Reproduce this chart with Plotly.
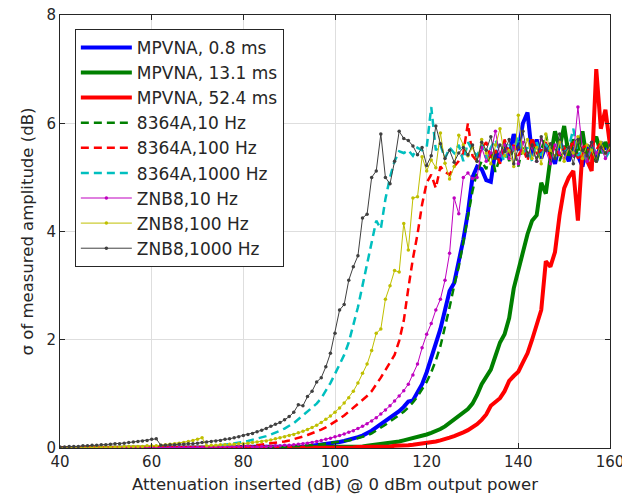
import plotly.graph_objects as go

# ---------------- data (sigma of measured amplitude, dB) ----------------
# attenuation grid is 1 dB per sample, each series starts at its own value
mp08_start = 40
mp08 = ([0.00]*17 + [0.01]*22 + [0.02]*10 + [0.03]*6 + [0.04] +
        [0.05, 0.06, 0.07, 0.08,
         0.10, 0.11, 0.13, 0.15, 0.17, 0.20, 0.23, 0.27, 0.32, 0.38,
         0.44, 0.50, 0.55, 0.60, 0.68, 0.76, 0.86, 0.88, 1.05, 1.18,
         1.40, 1.65, 1.90, 2.20, 2.55, 2.90, 3.05, 3.45, 3.85, 4.35,
         5.00, 5.20, 5.15, 4.95, 4.92, 5.50, 5.30, 5.60, 5.40, 5.80,
         5.50, 6.00, 6.20, 5.40, 5.70, 5.35, 5.60, 5.45, 5.25, 5.65,
         5.50, 5.30, 5.55, 5.40, 5.20, 5.60, 5.45, 5.30, 5.65, 5.50])

mp131_start = 40
mp131 = ([0.00]*30 + [0.01]*25 + [0.02]*9 + [0.02, 0.02] +
         [0.03, 0.04, 0.05, 0.06, 0.08,
          0.09, 0.10, 0.11, 0.12, 0.14, 0.16, 0.18, 0.20, 0.23, 0.25,
          0.28, 0.31, 0.35, 0.40, 0.46, 0.52, 0.58, 0.65, 0.72, 0.82,
          0.98, 1.18, 1.32, 1.45, 1.70, 1.95, 2.10, 2.40, 2.95, 3.30,
          3.62, 3.95, 4.20, 4.30, 4.90, 4.70, 5.35, 5.85, 5.55, 5.95,
          5.40, 5.70, 5.50, 5.85, 5.30, 5.60, 5.75, 5.45, 5.65, 5.50])

mp524_start = 40
mp524 = ([0.00]*40 + [0.01]*25 + [0.02]*6 +
         [0.03, 0.03, 0.04, 0.04, 0.05, 0.05, 0.06, 0.07, 0.08, 0.09,
          0.10, 0.12, 0.14, 0.16, 0.19, 0.22, 0.25, 0.29, 0.33, 0.38,
          0.44, 0.52, 0.62, 0.78, 0.86, 0.92, 1.05, 1.24, 1.33, 1.41,
          1.58, 1.75, 2.00, 2.30, 2.55, 3.45, 3.35, 3.62, 4.30, 4.80,
          5.00, 5.12, 4.20, 5.50, 5.30, 5.12, 7.00, 5.90, 6.25, 5.60])

a10_start = 85
a10 = [0.01, 0.01, 0.02, 0.02, 0.02, 0.03, 0.03, 0.04, 0.04, 0.05, 0.05, 0.06, 0.07, 0.08, 0.09, 0.10,
       0.11, 0.13, 0.14, 0.16, 0.18, 0.20, 0.23, 0.27, 0.32, 0.37,
       0.43, 0.49, 0.55, 0.60, 0.67, 0.75, 0.84, 0.95, 1.08, 1.22,
       1.40, 1.62, 1.88, 2.22, 2.60, 3.00, 3.35, 3.80, 4.25, 4.75,
       5.10, 5.30, 5.15, 5.50, 5.10, 5.40, 5.65, 5.30, 5.55, 5.20,
       5.60, 5.45, 5.70, 5.35, 5.50, 5.80, 5.40, 5.60, 5.30, 5.55,
       5.65, 5.35, 5.50, 5.70, 5.40, 5.55, 5.25, 5.60, 5.45, 5.50]

a100_start = 80
a100 = [0.02, 0.03, 0.04, 0.05, 0.06, 0.07, 0.08, 0.09, 0.10, 0.12, 0.14,
        0.16, 0.18, 0.21, 0.24, 0.27, 0.30, 0.34, 0.38, 0.43, 0.48,
        0.54, 0.60, 0.67, 0.74, 0.82, 0.88, 0.96, 1.05, 1.17, 1.30,
        1.44, 1.57, 1.72, 1.98, 2.35, 2.95, 3.50, 3.95, 4.50, 4.90,
        5.05, 4.80, 5.20, 5.10, 5.05, 5.20, 5.30, 5.45, 6.00, 5.40,
        5.30, 5.55, 5.65, 5.35, 5.50, 5.25, 5.70, 5.45, 5.60, 5.40,
        5.55, 5.30, 5.75, 5.45, 5.50, 5.65, 5.35, 5.60, 5.40, 5.55,
        5.45, 5.70, 5.35, 5.55, 5.60, 5.30, 5.50, 5.65, 5.40, 5.55]

a1000_start = 75
a1000 = [0.05, 0.06, 0.07, 0.09, 0.10, 0.11,
         0.13, 0.15, 0.17, 0.19, 0.22, 0.25, 0.28, 0.32, 0.36, 0.41,
         0.46, 0.53, 0.60, 0.67, 0.75, 0.82, 0.92, 1.05, 1.20, 1.37,
         1.55, 1.72, 1.95, 2.25, 2.60, 3.00, 3.40, 3.80, 4.20, 4.05,
         4.60, 5.00, 5.30, 5.48, 5.45, 5.50, 5.40, 5.55, 5.50, 5.55,
         6.30, 5.50, 5.60, 5.35, 5.55, 5.45, 5.60, 5.30, 5.65, 5.50,
         5.40, 5.60, 5.35, 5.55, 5.70, 5.45, 5.30, 5.60, 5.50, 5.75,
         5.45, 5.55, 5.30, 5.65, 5.40, 5.60, 5.50, 5.35, 5.70, 5.45,
         5.55, 5.90, 5.40, 5.50, 5.30, 5.60, 5.45, 5.55, 5.35, 5.50]

z10_start = 40
z10 = ([0.00]*23 + [0.01]*9 + [0.02]*6 + [0.03]*3 + [0.04] +
       [0.02, 0.02, 0.03, 0.03, 0.03, 0.04, 0.04, 0.05, 0.05,
        0.06, 0.07, 0.08, 0.09, 0.10, 0.12, 0.14, 0.16, 0.18, 0.21,
        0.23, 0.26, 0.29, 0.32, 0.36, 0.40, 0.45, 0.50, 0.56, 0.63,
        0.70, 0.78, 0.87, 0.96, 1.06, 1.18, 1.35, 1.55, 1.85, 2.10,
        2.30, 2.55, 2.75, 3.10, 3.60, 4.62, 4.33, 5.00, 5.08, 4.98,
        5.00, 5.55, 5.30, 5.45, 5.85, 5.40, 5.60, 5.35, 5.55, 5.25,
        5.65, 5.40, 5.55, 5.30, 5.70, 5.50, 5.25, 5.60, 5.45, 5.35,
        5.55, 5.40, 6.30, 5.50, 5.30, 5.65, 5.45, 5.55, 5.35, 5.60])

z100_start = 40
z100 = ([0.01]*7 + [0.02]*7 + [0.03]*5 + [0.04]*3 +
        [0.05, 0.06, 0.07, 0.08, 0.09, 0.10, 0.12, 0.14, 0.16, 0.19,
         0.04, 0.05, 0.05, 0.06, 0.06, 0.07, 0.07, 0.08, 0.08,
         0.09, 0.10, 0.11, 0.12, 0.13, 0.15, 0.17, 0.19, 0.21, 0.23,
         0.25, 0.28, 0.31, 0.34, 0.38, 0.42, 0.47, 0.53, 0.59, 0.66,
         0.74, 0.83, 0.93, 1.05, 1.20, 1.38, 1.55, 1.80, 2.12, 2.20,
         2.75, 3.00, 3.28, 3.25, 4.15, 3.66, 4.62, 4.64, 5.38, 5.12,
         5.32, 5.18, 5.82, 5.26, 4.97, 5.20, 5.78, 5.60, 5.40, 5.55,
         5.30, 5.70, 5.45, 5.25, 5.60, 5.90, 5.40, 5.50, 5.20, 6.15,
         5.45, 5.70, 5.35, 5.55, 5.25, 5.80, 5.50, 5.40, 5.65, 5.30,
         5.55, 5.45, 5.75, 5.35, 5.60, 5.50, 5.30, 5.65, 5.45, 5.55])

z1000_start = 40
z1000 = [0.02, 0.02, 0.03, 0.03, 0.03, 0.04, 0.04, 0.05, 0.05, 0.06, 0.06,
         0.07, 0.08, 0.08, 0.09, 0.10, 0.11, 0.12, 0.13, 0.14, 0.16, 0.17,
         0.05, 0.05, 0.06, 0.06, 0.07, 0.07, 0.08, 0.08, 0.09, 0.10,
         0.11, 0.12, 0.13, 0.14, 0.16, 0.17, 0.19, 0.21,
         0.23, 0.25, 0.27, 0.30, 0.33, 0.36, 0.40, 0.44,
         0.47, 0.52, 0.58, 0.66, 0.80, 0.78, 0.95, 1.05, 1.22, 1.30, 1.50, 1.75,
         2.12, 2.55, 2.65, 3.10, 3.35, 3.55, 4.25, 4.32, 5.00, 5.12,
         5.80, 5.00, 4.88, 5.30, 5.85, 5.72, 5.68, 5.58, 5.42, 5.55,
         5.22, 5.40, 5.95, 5.62, 5.35, 5.50, 5.28, 5.45, 5.55, 5.42,
         5.60, 5.30, 5.65, 5.50, 5.75, 5.35, 5.60, 5.48, 5.70, 5.25,
         5.55, 5.85, 5.40, 5.60, 5.30, 5.75, 5.50, 5.62, 5.35, 5.80,
         5.45, 5.55, 5.25, 5.70, 5.50, 5.40, 5.65, 5.30, 5.55, 5.45, 5.60]

series_names = ["MPVNA, 0.8 ms", "MPVNA, 13.1 ms", "MPVNA, 52.4 ms",
                "8364A,10 Hz", "8364A,100 Hz", "8364A,1000 Hz",
                "ZNB8,10 Hz", "ZNB8,100 Hz", "ZNB8,1000 Hz"]
series_data = [(mp08_start, mp08), (mp131_start, mp131), (mp524_start, mp524),
               (a10_start, a10), (a100_start, a100), (a1000_start, a1000),
               (z10_start, z10), (z100_start, z100), (z1000_start, z1000)]

x_ticks = [40, 60, 80, 100, 120, 140, 160]
y_ticks = [0, 2, 4, 6, 8]

# ---------------- styles ----------------
styles = [
    dict(mode="lines", line=dict(color="#0000ff", width=4)),
    dict(mode="lines", line=dict(color="#008000", width=4)),
    dict(mode="lines", line=dict(color="#ff0000", width=4)),
    dict(mode="lines", line=dict(color="#008000", width=2.5, dash="8px,5px")),
    dict(mode="lines", line=dict(color="#ff0000", width=2.5, dash="8px,5px")),
    dict(mode="lines", line=dict(color="#00bfbf", width=2.5, dash="8px,5px")),
    dict(mode="lines+markers", line=dict(color="#bf00bf", width=1), marker=dict(size=3.5, color="#bf00bf")),
    dict(mode="lines+markers", line=dict(color="#bfbf00", width=1), marker=dict(size=3.5, color="#bfbf00")),
    dict(mode="lines+markers", line=dict(color="#404040", width=1), marker=dict(size=3.5, color="#404040")),
]

fig = go.Figure()
for name, (start, vals), st in zip(series_names, series_data, styles):
    xs = list(range(start, start + len(vals)))
    fig.add_trace(go.Scatter(x=xs, y=vals, name=name, legendgroup=name, **st))

FONT = "DejaVu Sans"
axis_common = dict(showline=True, linecolor="#262626", linewidth=1, mirror="ticks",
                   ticks="inside", ticklen=5, tickcolor="#262626",
                   showgrid=True, gridcolor="#dedede", gridwidth=1, zeroline=False,
                   automargin=False,
                   tickfont=dict(family=FONT, size=15, color="#262626"))

fig.update_xaxes(range=[40, 160], tickvals=x_ticks, ticklabeloverflow="allow",
                 title=dict(text="Attenuation inserted (dB) @ 0 dBm output power",
                            font=dict(family=FONT, size=16.5, color="#262626"), standoff=8),
                 **axis_common)
fig.update_yaxes(range=[0, 8], tickvals=y_ticks,
                 title=dict(text="σ of measured amplitude (dB)",
                            font=dict(family=FONT, size=16.5, color="#262626"), standoff=8),
                 **axis_common)

fig.update_layout(
    width=622, height=498,
    margin=dict(l=60, r=12, t=15, b=50),
    paper_bgcolor="white", plot_bgcolor="white",
    legend=dict(x=0.027, y=0.968, xanchor="left", yanchor="top",
                bgcolor="white", bordercolor="#262626", borderwidth=1,
                font=dict(family=FONT, size=17, color="#262626"),
                tracegroupgap=0, itemwidth=51),
    showlegend=True,
)

fig.write_html("out.html")
